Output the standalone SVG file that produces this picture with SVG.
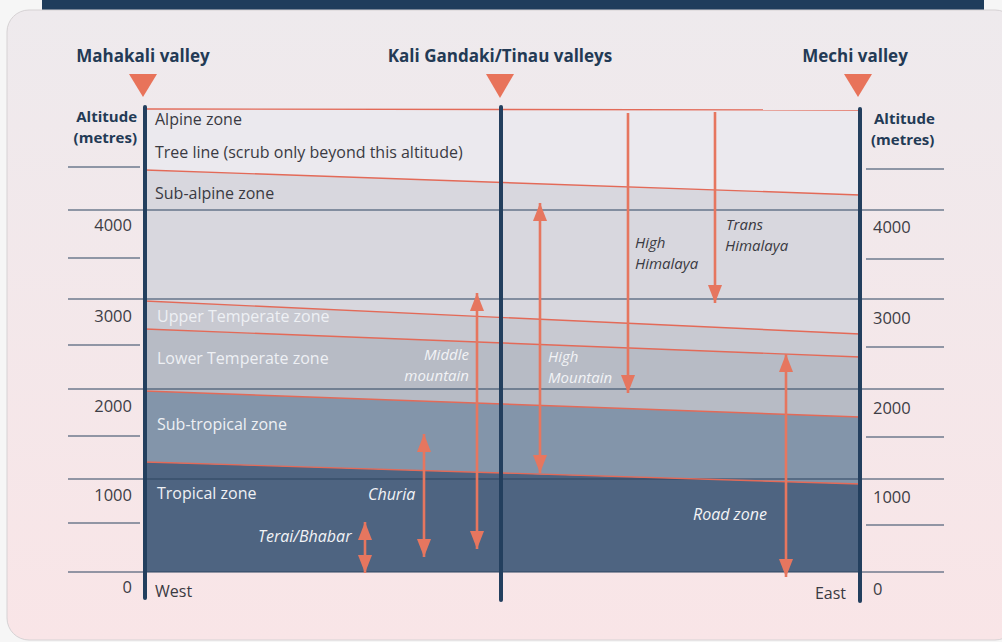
<svg xmlns="http://www.w3.org/2000/svg" width="1002" height="642" viewBox="0 0 1002 642">
<defs>
<linearGradient id="bg" x1="0" y1="0" x2="0" y2="1">
<stop offset="0" stop-color="#eeeaed"/>
<stop offset="1" stop-color="#f9e5e7"/>
</linearGradient>
<marker id="ah" viewBox="0 0 18 14" refX="18" refY="7" markerWidth="18" markerHeight="14" markerUnits="userSpaceOnUse" orient="auto-start-reverse">
<path d="M0,0 L18,7 L0,14 z" fill="#e6765f"/>
</marker>
<style>
.hdr{font-family:"Open Sans","Liberation Sans",sans-serif;font-weight:bold;font-size:17px;fill:#233a55}
.ax{font-family:"Open Sans","Liberation Sans",sans-serif;font-weight:bold;font-size:15px;fill:#233a55}
.num{font-family:"Open Sans","Liberation Sans",sans-serif;font-size:16.5px;fill:#3d3d45}
.zd{font-family:"Open Sans","Liberation Sans",sans-serif;font-size:16px;fill:#3a3a42}
.zl{font-family:"Open Sans","Liberation Sans",sans-serif;font-size:16px;fill:#eef0f4}
.id{font-family:"Open Sans","Liberation Sans",sans-serif;font-style:italic;font-size:15px;fill:#3a3a42}
.il{font-family:"Open Sans","Liberation Sans",sans-serif;font-style:italic;font-size:15px;fill:#f2f3f6}
.il2{font-family:"Open Sans","Liberation Sans",sans-serif;font-style:italic;font-size:16px;fill:#f2f3f6}
.grid{stroke:#2c4560;stroke-width:1.1;fill:none}
.zb{stroke:#e36a58;stroke-width:1.4;fill:none}
.ar{stroke:#e6765f;stroke-width:2.6;fill:none}
.tri{fill:#e8735a}
.axis{stroke:#233f5e;stroke-width:4;stroke-linecap:round}
</style>
</defs>
<rect x="0" y="0" width="1002" height="642" fill="#f6f6f6"/>
<rect x="42" y="0" width="942" height="10" fill="#1f3d5c"/>
<rect x="7" y="10" width="1010" height="630" rx="22" fill="url(#bg)" stroke="#d6d2d4" stroke-width="1"/>

<g id="zones">
<polygon points="145,109 860,110 860,195 145,170" fill="#ebe9ee"/>
<polygon points="145,170 860,195 860,334 145,301" fill="#d8d7de"/>
<polygon points="145,301 860,334 860,357 145,329" fill="#c8c9d1"/>
<polygon points="145,329 860,357 860,417 145,391" fill="#b7bbc5"/>
<polygon points="145,391 860,417 860,484 145,462" fill="#8395aa"/>
<polygon points="145,462 860,484 860,572 145,572" fill="#4e6481"/>
</g>

<g id="gridlines">
<line class="grid" x1="68" y1="167" x2="140" y2="167"/>
<line class="grid" x1="68" y1="210" x2="944" y2="210"/>
<line class="grid" x1="68" y1="258" x2="140" y2="258"/>
<line class="grid" x1="68" y1="299" x2="944" y2="299"/>
<line class="grid" x1="68" y1="345" x2="140" y2="345"/>
<line class="grid" x1="68" y1="389" x2="944" y2="389"/>
<line class="grid" x1="68" y1="436" x2="140" y2="436"/>
<line class="grid" x1="68" y1="479" x2="944" y2="479"/>
<line class="grid" x1="68" y1="523" x2="140" y2="523"/>
<line class="grid" x1="68" y1="572" x2="944" y2="572"/>
<line class="grid" x1="866" y1="169" x2="944" y2="169"/>
<line class="grid" x1="866" y1="259" x2="944" y2="259"/>
<line class="grid" x1="866" y1="347" x2="944" y2="347"/>
<line class="grid" x1="866" y1="437" x2="944" y2="437"/>
<line class="grid" x1="866" y1="525" x2="944" y2="525"/>
</g>

<g id="zone-boundaries">
<line class="zb" x1="145" y1="109" x2="860" y2="110"/>
<line class="zb" x1="145" y1="170" x2="860" y2="195"/>
<line class="zb" x1="145" y1="301" x2="860" y2="334"/>
<line class="zb" x1="145" y1="329" x2="860" y2="357"/>
<line class="zb" x1="145" y1="391" x2="860" y2="417"/>
<line class="zb" x1="145" y1="462" x2="860" y2="484"/>
</g>

<g id="axes">
<line class="axis" x1="145" y1="107" x2="145" y2="598"/>
<line class="axis" x1="501" y1="107" x2="501" y2="600"/>
<line class="axis" x1="860" y1="109" x2="860" y2="601"/>
</g>

<g id="valleys">
<g id="mahakali">
<text class="hdr" x="143" y="62" text-anchor="middle">Mahakali valley</text>
<polygon class="tri" points="129,74 157,74 143,97"/>
</g>
<g id="kali-gandaki">
<text class="hdr" x="500" y="62" text-anchor="middle">Kali Gandaki/Tinau valleys</text>
<polygon class="tri" points="486,74 514,74 500,98"/>
</g>
<g id="mechi">
<text class="hdr" x="855" y="62" text-anchor="middle">Mechi valley</text>
<polygon class="tri" points="844,74 872,74 858,97"/>
</g>
</g>

<g id="left-scale">
<text class="ax" x="137" y="122" text-anchor="end">Altitude</text>
<text class="ax" x="137" y="143" text-anchor="end">(metres)</text>
<text class="num" x="132" y="231" text-anchor="end">4000</text>
<text class="num" x="132" y="322" text-anchor="end">3000</text>
<text class="num" x="132" y="412" text-anchor="end">2000</text>
<text class="num" x="132" y="501" text-anchor="end">1000</text>
<text class="num" x="132" y="593" text-anchor="end">0</text>
</g>
<g id="right-scale">
<text class="ax" x="874" y="124">Altitude</text>
<text class="ax" x="871" y="145">(metres)</text>
<text class="num" x="873" y="233">4000</text>
<text class="num" x="873" y="324">3000</text>
<text class="num" x="873" y="414">2000</text>
<text class="num" x="873" y="503">1000</text>
<text class="num" x="873" y="595">0</text>
</g>

<g id="zone-labels">
<text class="zd" x="155" y="125">Alpine zone</text>
<text class="zd" x="155" y="158">Tree line (scrub only beyond this altitude)</text>
<text class="zd" x="155" y="199">Sub-alpine zone</text>
<text class="zl" x="157" y="322">Upper Temperate zone</text>
<text class="zl" x="157" y="364">Lower Temperate zone</text>
<text class="zl" x="157" y="430">Sub-tropical zone</text>
<text class="zl" x="157" y="499">Tropical zone</text>
<text class="zd" x="155" y="597">West</text>
<text class="zd" x="846" y="599" text-anchor="end">East</text>
</g>

<g id="connectors">
<line class="ar" x1="628" y1="113" x2="628" y2="393" marker-end="url(#ah)"/>
<line class="ar" x1="715" y1="112" x2="715" y2="303" marker-end="url(#ah)"/>
<line class="ar" x1="540" y1="203" x2="540" y2="473" marker-start="url(#ah)" marker-end="url(#ah)"/>
<line class="ar" x1="477" y1="293" x2="477" y2="549" marker-start="url(#ah)" marker-end="url(#ah)"/>
<line class="ar" x1="424" y1="434" x2="424" y2="557" marker-start="url(#ah)" marker-end="url(#ah)"/>
<line class="ar" x1="365" y1="522" x2="365" y2="573" marker-start="url(#ah)" marker-end="url(#ah)"/>
<line class="ar" x1="786" y1="354" x2="786" y2="577" marker-start="url(#ah)" marker-end="url(#ah)"/>
</g>

<g id="region-labels">
<g id="trans-himalaya">
<text class="id" x="726" y="230">Trans</text>
<text class="id" x="725" y="251">Himalaya</text>
</g>
<g id="high-himalaya">
<text class="id" x="635" y="248">High</text>
<text class="id" x="635" y="269">Himalaya</text>
</g>
<g id="middle-mountain">
<text class="il" x="469" y="360" text-anchor="end">Middle</text>
<text class="il" x="469" y="381" text-anchor="end">mountain</text>
</g>
<g id="high-mountain">
<text class="il" x="548" y="362">High</text>
<text class="il" x="548" y="383">Mountain</text>
</g>
<g id="churia">
<text class="il2" x="368" y="500">Churia</text>
</g>
<g id="terai">
<text class="il2" x="258" y="542">Terai/Bhabar</text>
</g>
<g id="road-zone">
<text class="il2" x="693" y="520">Road zone</text>
</g>
</g>
</svg>
